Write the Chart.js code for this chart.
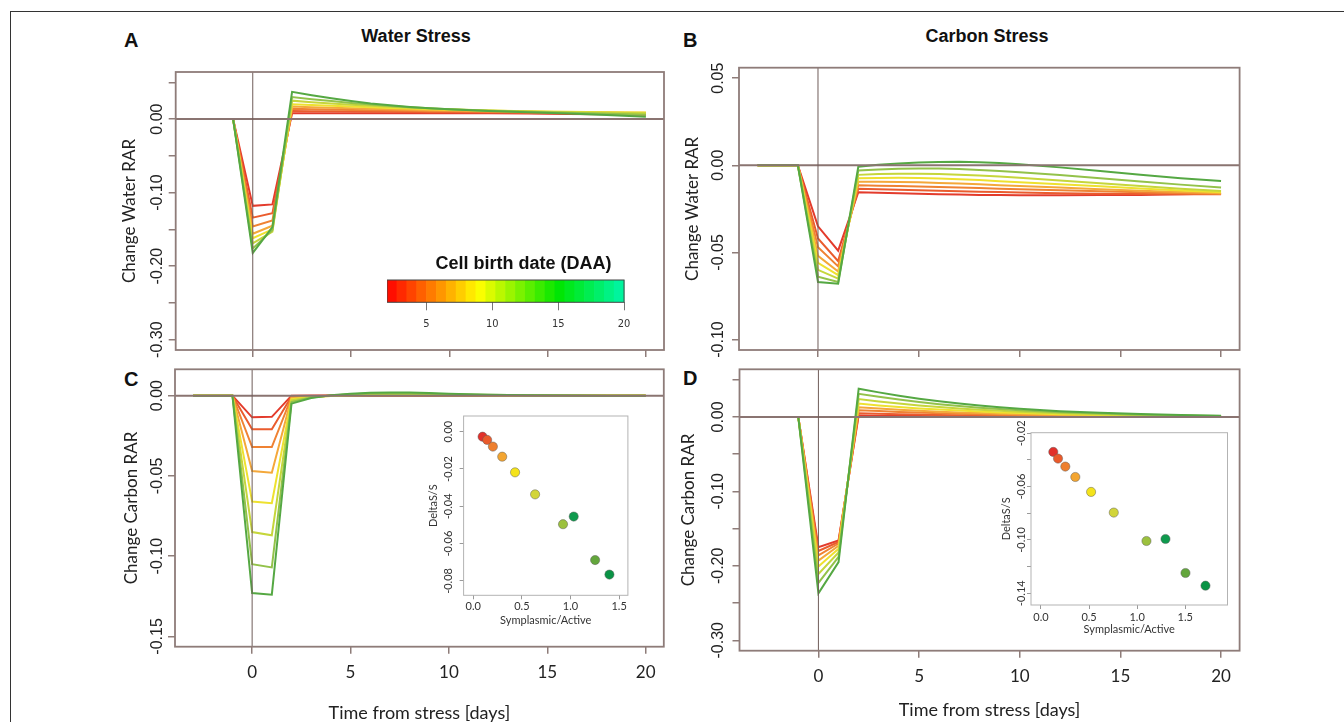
<!DOCTYPE html>
<html>
<head>
<meta charset="utf-8">
<script src="https://cdn.jsdelivr.net/npm/chart.js@4.4.1/dist/chart.umd.min.js"></script>
<style>
  body { margin: 0; width: 1344px; height: 722px; overflow: hidden; position: relative; background: #fff; font-family: "Liberation Sans", Arial, sans-serif; }
  canvas { position: absolute; }
  #frame { position: absolute; left: 10px; top: 11px; width: 1400px; height: 800px; border-left: 1px solid #333; border-top: 1px solid #333; }
  .letter { position: absolute; font-weight: bold; font-size: 20px; line-height: 1; color: #111; }
  .head { position: absolute; width: 300px; text-align: center; font-weight: bold; font-size: 18px; line-height: 1; color: #111; }
</style>
</head>
<body>
<div id="frame"></div>
<div class="letter" style="left:124px;top:30px">A</div>
<div class="letter" style="left:683px;top:30px">B</div>
<div class="letter" style="left:124px;top:369px">C</div>
<div class="letter" style="left:683px;top:368px">D</div>
<div class="head" style="left:266px;top:27px">Water Stress</div>
<div class="head" style="left:837px;top:27px">Carbon Stress</div>

<canvas id="panelA" width="572" height="300" style="left:100px;top:60px"></canvas>
<canvas id="panelB" width="570" height="305" style="left:680px;top:55px"></canvas>
<canvas id="panelC" width="572" height="360" style="left:100px;top:362px"></canvas>
<canvas id="panelD" width="570" height="360" style="left:680px;top:362px"></canvas>
<canvas id="colorbar" width="273" height="85" style="left:387px;top:250px"></canvas>
<canvas id="insetC" width="220" height="225" style="left:420px;top:405px"></canvas>
<canvas id="insetD" width="250" height="220" style="left:990px;top:420px"></canvas>

<script>
// tempo (dias) desde o estresse
var days = [-3, -1, 0, 1, 2, 3, 4, 5, 6, 7, 8, 9, 10, 12, 14, 16, 18, 20];
var xTicks = [0, 5, 10, 15, 20];

// A: water stress, change water RAR (red -> green)
var waterA1 = [0, 0, -0.118, -0.116, 0.008, 0.008, 0.008, 0.008, 0.008, 0.008, 0.008, 0.008, 0.008, 0.0078, 0.0075, 0.007, 0.0065, 0.006];
var waterA2 = [0, 0, -0.134, -0.128, 0.011, 0.0108, 0.0105, 0.0103, 0.010, 0.0098, 0.0096, 0.0094, 0.0092, 0.0088, 0.0084, 0.008, 0.0075, 0.007];
var waterA3 = [0, 0, -0.146, -0.138, 0.014, 0.0135, 0.013, 0.0125, 0.012, 0.0116, 0.0112, 0.0108, 0.0105, 0.0099, 0.0094, 0.009, 0.0085, 0.008];
var waterA4 = [0, 0, -0.156, -0.145, 0.017, 0.0162, 0.0154, 0.0147, 0.014, 0.0133, 0.0127, 0.0121, 0.0116, 0.0107, 0.010, 0.0094, 0.0089, 0.0085];
var waterA5 = [0, 0, -0.162, -0.150, 0.020, 0.019, 0.018, 0.017, 0.016, 0.015, 0.0142, 0.0134, 0.0127, 0.0115, 0.0106, 0.0099, 0.0094, 0.009];
var waterA6 = [0, 0, -0.169, -0.153, 0.025, 0.023, 0.0212, 0.0195, 0.018, 0.0166, 0.0153, 0.0142, 0.0132, 0.0116, 0.0103, 0.0094, 0.0087, 0.008];
var waterA7 = [0, 0, -0.176, -0.151, 0.030, 0.027, 0.0245, 0.022, 0.0198, 0.0178, 0.016, 0.0146, 0.0134, 0.0114, 0.0098, 0.0085, 0.0072, 0.006];
var waterA8 = [0, 0, -0.182, -0.147, 0.037, 0.0325, 0.0283, 0.0245, 0.0213, 0.0187, 0.0165, 0.0147, 0.0132, 0.011, 0.0092, 0.0075, 0.0054, 0.0032];

// B: carbon stress, change water RAR
var waterB1 = [0, 0, -0.035, -0.049, -0.0155, -0.0157, -0.016, -0.0163, -0.0166, -0.0168, -0.017, -0.0171, -0.0172, -0.0172, -0.0171, -0.017, -0.0166, -0.0162];
var waterB2 = [0, 0, -0.042, -0.055, -0.0135, -0.0137, -0.014, -0.0143, -0.0146, -0.0149, -0.0152, -0.0154, -0.0156, -0.016, -0.0163, -0.0165, -0.0166, -0.0166];
var waterB3 = [0, 0, -0.047, -0.058, -0.0115, -0.0117, -0.0119, -0.0122, -0.0125, -0.0128, -0.0131, -0.0134, -0.0137, -0.0143, -0.0149, -0.0155, -0.016, -0.0165];
var waterB4 = [0, 0, -0.052, -0.061, -0.0095, -0.0095, -0.0096, -0.0098, -0.0101, -0.0105, -0.0109, -0.0114, -0.0119, -0.0128, -0.0137, -0.0146, -0.0154, -0.016];
var waterB5 = [0, 0, -0.056, -0.063, -0.0075, -0.0073, -0.0072, -0.0073, -0.0076, -0.008, -0.0085, -0.0091, -0.0097, -0.0109, -0.0121, -0.0133, -0.0145, -0.0155];
var waterB6 = [0, 0, -0.060, -0.065, -0.0055, -0.005, -0.0048, -0.0048, -0.005, -0.0054, -0.0059, -0.0065, -0.0072, -0.0087, -0.0103, -0.0119, -0.0134, -0.0148];
var waterB7 = [0, 0, -0.064, -0.067, -0.003, -0.0024, -0.002, -0.0018, -0.0019, -0.0022, -0.0027, -0.0033, -0.004, -0.0056, -0.0074, -0.0093, -0.0111, -0.0128];
var waterB8 = [0, 0, -0.067, -0.068, -0.0008, 0.0003, 0.001, 0.0016, 0.0019, 0.002, 0.0018, 0.0013, 0.0006, -0.0012, -0.0033, -0.0055, -0.0075, -0.009];

// C: water stress, change carbon RAR
var carbonC1 = [0, 0, -0.0135, -0.0132, 0, 0.0001, 0.0001, 0.0001, 0, 0, 0, 0, 0, 0, 0, 0, 0, 0];
var carbonC2 = [0, 0, -0.021, -0.021, -0.0005, -0.0002, 0, 0.0001, 0.0001, 0.0001, 0.0001, 0, 0, 0, 0, 0, 0, 0];
var carbonC3 = [0, 0, -0.032, -0.032, -0.001, -0.0004, -0.0001, 0, 0.0001, 0.0001, 0.0001, 0.0001, 0.0001, 0, 0, 0, 0, 0];
var carbonC4 = [0, 0, -0.047, -0.048, -0.0015, -0.0006, -0.0002, 0, 0.0002, 0.0002, 0.0002, 0.0002, 0.0002, 0.0001, 0, 0, 0, 0];
var carbonC5 = [0, 0, -0.066, -0.067, -0.0022, -0.0009, -0.0002, 0.0002, 0.0004, 0.0005, 0.0005, 0.0004, 0.0003, 0.0002, 0.0001, 0, 0, 0];
var carbonC6 = [0, 0, -0.085, -0.087, -0.003, -0.001, 0, 0.0005, 0.0008, 0.0009, 0.0009, 0.0008, 0.0006, 0.0003, 0.0001, 0, 0, 0];
var carbonC7 = [0, 0, -0.105, -0.107, -0.004, -0.0012, 0.0001, 0.0009, 0.0013, 0.0015, 0.0014, 0.0012, 0.0009, 0.0005, 0.0002, 0.0001, 0, 0];
var carbonC8 = [0, 0, -0.123, -0.124, -0.005, -0.0015, 0.0002, 0.0012, 0.0018, 0.002, 0.0019, 0.0016, 0.0012, 0.0006, 0.0003, 0.0001, 0, 0];

// D: carbon stress, change carbon RAR
var carbonD1 = [0, 0, -0.175, -0.166, 0.002, 0.0017, 0.0015, 0.0013, 0.0011, 0.0009, 0.0008, 0.0007, 0.0006, 0.0004, 0.0003, 0.0002, 0.0001, 0.0001];
var carbonD2 = [0, 0, -0.180, -0.168, 0.005, 0.0043, 0.0037, 0.0032, 0.0027, 0.0023, 0.002, 0.0017, 0.0014, 0.001, 0.0007, 0.0005, 0.0003, 0.0002];
var carbonD3 = [0, 0, -0.186, -0.170, 0.009, 0.0079, 0.0068, 0.0059, 0.005, 0.0043, 0.0037, 0.0031, 0.0026, 0.0019, 0.0013, 0.0009, 0.0006, 0.0004];
var carbonD4 = [0, 0, -0.193, -0.173, 0.013, 0.0112, 0.0097, 0.0083, 0.0071, 0.0061, 0.0052, 0.0044, 0.0037, 0.0027, 0.0019, 0.0013, 0.0009, 0.0005];
var carbonD5 = [0, 0, -0.201, -0.177, 0.018, 0.0155, 0.0134, 0.0115, 0.0099, 0.0085, 0.0072, 0.0061, 0.0052, 0.0037, 0.0026, 0.0018, 0.0012, 0.0007];
var carbonD6 = [0, 0, -0.211, -0.182, 0.024, 0.0208, 0.018, 0.0154, 0.0132, 0.0113, 0.0096, 0.0082, 0.0069, 0.0049, 0.0035, 0.0024, 0.0016, 0.0009];
var carbonD7 = [0, 0, -0.223, -0.188, 0.031, 0.027, 0.0234, 0.0201, 0.0172, 0.0148, 0.0125, 0.0107, 0.009, 0.0064, 0.0045, 0.0031, 0.0021, 0.0012];
var carbonD8 = [0, 0, -0.237, -0.195, 0.038, 0.033, 0.0285, 0.0245, 0.021, 0.018, 0.0153, 0.013, 0.011, 0.0078, 0.0055, 0.0038, 0.0025, 0.0015];

// ticks do eixo y
var yTicksWide = [0.05, 0, -0.05, -0.1, -0.15, -0.2, -0.25, -0.3];
var yLabelsWide = [0, -0.1, -0.2, -0.3];
var yTicksB = [0.05, 0, -0.05, -0.1];
var yTicksC = [0, -0.05, -0.1, -0.15];

// insets: Symplasmic/Active x DeltaS/S
var insetCX = [0.096, 0.143, 0.202, 0.298, 0.43, 0.636, 0.923, 1.033, 1.253, 1.40];
var insetCY = [-0.0027, -0.0044, -0.008, -0.0134, -0.0218, -0.0336, -0.0496, -0.0455, -0.0688, -0.0766];
var insetDX = [0.128, 0.177, 0.253, 0.357, 0.521, 0.757, 1.097, 1.295, 1.503, 1.711];
var insetDY = [-0.034, -0.039, -0.045, -0.0528, -0.064, -0.0795, -0.1008, -0.0993, -0.1248, -0.1343];
var insetXTicks = [0, 0.5, 1, 1.5];
var insetCYTicks = [0, -0.02, -0.04, -0.06, -0.08];
var insetDYTicks = [-0.02, -0.04, -0.06, -0.08, -0.1, -0.12, -0.14];
var insetDYLabels = [-0.02, -0.06, -0.1, -0.14];

// barra de cores (DAA)
var colorbarDAA = [2.375, 3.125, 3.875, 4.625, 5.375, 6.125, 6.875, 7.625, 8.375, 9.125, 9.875, 10.625, 11.375, 12.125, 12.875, 13.625, 14.375, 15.125, 15.875, 16.625, 17.375, 18.125, 18.875, 19.625];
var colorbarTicks = [5, 10, 15, 20];

var lineColors = ["#e33b2c", "#ea5c2e", "#ef8233", "#f4a83a", "#eee12f", "#c6d63b", "#93c24a", "#55a843"];
var pointColors = ["#e2302a", "#ea5a2b", "#ee7f2e", "#f3a531", "#f4e31b", "#d2d53a", "#9cc13e", "#0f9a4e", "#63a63c", "#0a9345"];
var axisColor = "#8e7c79";

function rampColor(v) {
  var stops = [[2, [255, 0, 0]], [9, [255, 255, 0]], [15, [0, 230, 0]], [20, [0, 245, 170]]];
  for (var i = 0; i < stops.length - 1; i++) {
    if (v <= stops[i + 1][0]) {
      var f = (v - stops[i][0]) / (stops[i + 1][0] - stops[i][0]);
      var a = stops[i][1], b = stops[i + 1][1];
      return "rgb(" + a.map(function (c, k) { return Math.round(c + (b[k] - c) * f); }).join(",") + ")";
    }
  }
  return "rgb(0,245,170)";
}

function hasLabel(list, v) {
  return list.some(function (l) { return Math.abs(l - v) < 1e-9; });
}

// moldura + linhas do zero
var panelFrame = {
  id: "panelFrame",
  afterDatasetsDraw: function (chart, args, opts) {
    var ctx = chart.ctx, a = chart.chartArea;
    ctx.save();
    if (opts.zeroLines) {
      var y0 = chart.scales.y.getPixelForValue(0);
      var x0 = chart.scales.x.getPixelForValue(0);
      ctx.strokeStyle = "#8a7471";
      ctx.lineWidth = 2;
      ctx.beginPath(); ctx.moveTo(a.left, y0); ctx.lineTo(a.right, y0); ctx.stroke();
      ctx.strokeStyle = "#6f5d5a";
      ctx.lineWidth = 1;
      ctx.beginPath(); ctx.moveTo(x0, a.top); ctx.lineTo(x0, a.bottom); ctx.stroke();
    }
    ctx.strokeStyle = opts.color;
    ctx.lineWidth = opts.width;
    ctx.strokeRect(a.left, a.top, a.right - a.left, a.bottom - a.top);
    ctx.restore();
  }
};

var colorbarFrame = {
  id: "colorbarFrame",
  afterDatasetsDraw: function (chart) {
    var ctx = chart.ctx, a = chart.chartArea, x = chart.scales.x;
    var x1 = x.getPixelForValue(2), x2 = x.getPixelForValue(20);
    ctx.save();
    ctx.strokeStyle = "#444";
    ctx.lineWidth = 1;
    ctx.strokeRect(x1, a.top, x2 - x1, a.bottom - a.top);
    ctx.restore();
  }
};

function makePanel(canvasId, p) {
  var datasets = p.series.map(function (s, i) {
    return {
      data: days.map(function (d, j) { return { x: d, y: s[j] }; }),
      borderColor: lineColors[i],
      borderWidth: 2,
      pointRadius: 0,
      tension: 0,
      order: p.series.length - i
    };
  });
  return new Chart(document.getElementById(canvasId), {
    type: "line",
    data: { datasets: datasets },
    options: {
      responsive: false,
      animation: false,
      layout: { padding: { top: p.padTop, right: p.padRight, left: 0, bottom: 0 } },
      plugins: {
        legend: { display: false },
        tooltip: { enabled: false },
        panelFrame: { color: axisColor, width: 1.8, zeroLines: true }
      },
      scales: {
        x: {
          type: "linear",
          min: -3.92,
          max: 20.92,
          afterBuildTicks: function (s) { s.ticks = xTicks.map(function (v) { return { value: v }; }); },
          afterFit: function (s) { s.height = p.xHeight; },
          grid: { drawOnChartArea: false, drawTicks: true, tickLength: 7, color: axisColor, lineWidth: 1.5 },
          border: { display: false },
          ticks: {
            display: p.showX,
            autoSkip: false,
            maxRotation: 0,
            padding: p.xTickPad || 0,
            color: "#222",
            font: { family: "Lato", size: 17, lineHeight: 1 }
          },
          title: {
            display: p.showX,
            text: "Time from stress [days]",
            color: "#222",
            font: { family: "Lato", size: 18, lineHeight: 1 },
            padding: { top: 0, bottom: p.xTitlePad || 0 }
          }
        },
        y: {
          type: "linear",
          min: p.yMin,
          max: p.yMax,
          afterBuildTicks: function (s) { s.ticks = p.yTicks.map(function (v) { return { value: v }; }); },
          afterFit: function (s) { s.width = p.yWidth; },
          grid: { drawOnChartArea: false, drawTicks: true, tickLength: 7, color: axisColor, lineWidth: 1.5 },
          border: { display: false },
          ticks: {
            autoSkip: false,
            minRotation: 90,
            maxRotation: 90,
            crossAlign: "center",
            padding: p.yTickPad,
            color: "#222",
            font: { family: "Liberation Sans", size: 16 },
            callback: function (v) { return hasLabel(p.yLabels, v) ? v.toFixed(2) : ""; }
          },
          title: {
            display: true,
            text: p.yTitle,
            color: "#222",
            font: { family: "Lato", size: 17, lineHeight: 1 },
            padding: { top: p.yTitlePad, bottom: 0 }
          }
        }
      }
    },
    plugins: [panelFrame]
  });
}

function makeInset(canvasId, p) {
  return new Chart(document.getElementById(canvasId), {
    type: "scatter",
    data: {
      datasets: [{
        data: p.xs.map(function (x, i) { return { x: x, y: p.ys[i] }; }),
        backgroundColor: pointColors,
        borderColor: "rgba(90,90,90,0.6)",
        borderWidth: 0.8,
        pointRadius: 4.6
      }]
    },
    options: {
      responsive: false,
      animation: false,
      layout: { padding: { top: p.padTop, right: p.padRight, left: 0, bottom: 0 } },
      plugins: {
        legend: { display: false },
        tooltip: { enabled: false },
        panelFrame: { color: "#b3b3b3", width: 1, zeroLines: false }
      },
      scales: {
        x: {
          type: "linear",
          min: p.xMin,
          max: p.xMax,
          afterBuildTicks: function (s) { s.ticks = insetXTicks.map(function (v) { return { value: v }; }); },
          afterFit: function (s) { s.height = p.xHeight; },
          grid: { drawOnChartArea: false, drawTicks: true, tickLength: 4, color: "#9a9a9a", lineWidth: 1 },
          border: { display: false },
          ticks: {
            autoSkip: false,
            maxRotation: 0,
            padding: p.xTickPad,
            color: "#333",
            font: { family: "Lato", size: 11, lineHeight: 1 },
            callback: function (v) { return v.toFixed(1); }
          },
          title: {
            display: true,
            text: "Symplasmic/Active",
            color: "#333",
            font: { family: "Lato", size: 11, lineHeight: 1 },
            padding: { top: 0, bottom: p.xTitlePad }
          }
        },
        y: {
          type: "linear",
          min: p.yMin,
          max: p.yMax,
          afterBuildTicks: function (s) { s.ticks = p.yTicks.map(function (v) { return { value: v }; }); },
          afterFit: function (s) { s.width = p.yWidth; },
          grid: { drawOnChartArea: false, drawTicks: true, tickLength: 4, color: "#9a9a9a", lineWidth: 1 },
          border: { display: false },
          ticks: {
            autoSkip: false,
            minRotation: 90,
            maxRotation: 90,
            crossAlign: "center",
            padding: p.yTickPad,
            color: "#333",
            font: { family: "Lato", size: 11 },
            callback: function (v) { return hasLabel(p.yLabels, v) ? v.toFixed(2) : ""; }
          },
          title: {
            display: true,
            text: "DeltaS/S",
            color: "#333",
            font: { family: "Lato", size: 11, lineHeight: 1 },
            padding: { top: p.yTitlePad, bottom: 0 }
          }
        }
      }
    },
    plugins: [panelFrame]
  });
}

makePanel("panelA", {
  series: [waterA1, waterA2, waterA3, waterA4, waterA5, waterA6, waterA7, waterA8],
  yMin: -0.314, yMax: 0.064, yTicks: yTicksWide, yLabels: yLabelsWide,
  yTitle: "Change Water RAR", yTitlePad: 21.5, yTickPad: -7.5,
  padTop: 12, padRight: 8, yWidth: 75.7, xHeight: 10, showX: false
});

makePanel("panelB", {
  series: [waterB1, waterB2, waterB3, waterB4, waterB5, waterB6, waterB7, waterB8],
  yMin: -0.106, yMax: 0.056, yTicks: yTicksB, yLabels: yTicksB,
  yTitle: "Change Water RAR", yTitlePad: 4, yTickPad: -5.2,
  padTop: 12.7, padRight: 10.4, yWidth: 59, xHeight: 10, showX: false
});

makePanel("panelC", {
  series: [carbonC1, carbonC2, carbonC3, carbonC4, carbonC5, carbonC6, carbonC7, carbonC8],
  yMin: -0.1564, yMax: 0.0164, yTicks: yTicksC, yLabels: yTicksC,
  yTitle: "Change Carbon RAR", yTitlePad: 23.5, yTickPad: -8.2,
  padTop: 7.3, padRight: 8.2, yWidth: 75, xHeight: 75.3, showX: true, xTickPad: 10.8, xTitlePad: 0
});

makePanel("panelD", {
  series: [carbonD1, carbonD2, carbonD3, carbonD4, carbonD5, carbonD6, carbonD7, carbonD8],
  yMin: -0.314, yMax: 0.064, yTicks: yTicksWide, yLabels: yLabelsWide,
  yTitle: "Change Carbon RAR", yTitlePad: 0.5, yTickPad: -4.7,
  padTop: 7.3, padRight: 10.4, yWidth: 59.5, xHeight: 71.3, showX: true, xTickPad: 10.5, xTitlePad: 3
});

makeInset("insetC", {
  xs: insetCX, ys: insetCY,
  xMin: -0.099, xMax: 1.59, yMin: -0.0877, yMax: 0.0084,
  yTicks: insetCYTicks, yLabels: insetCYTicks,
  padTop: 11, padRight: 12.1, yWidth: 43.6, xHeight: 34.7,
  yTitlePad: 7.5, yTickPad: -2, xTickPad: 1.9, xTitlePad: 4.5
});

makeInset("insetD", {
  xs: insetDX, ys: insetDY,
  xMin: -0.104, xMax: 1.94, yMin: -0.1488, yMax: -0.0196,
  yTicks: insetDYTicks, yLabels: insetDYLabels,
  padTop: 12.7, padRight: 12.5, yWidth: 41, xHeight: 35,
  yTitlePad: 11.2, yTickPad: -7.7, xTickPad: 3.2, xTitlePad: 5.2
});

// barra de cores
new Chart(document.getElementById("colorbar"), {
  type: "bar",
  data: {
    datasets: [{
      data: colorbarDAA.map(function (v) { return { x: v, y: 1 }; }),
      backgroundColor: colorbarDAA.map(rampColor),
      borderWidth: 0,
      barPercentage: 1,
      categoryPercentage: 1
    }]
  },
  options: {
    responsive: false,
    animation: false,
    layout: { padding: 0 },
    plugins: {
      legend: { display: false },
      tooltip: { enabled: false },
      title: {
        display: true,
        text: "Cell birth date (DAA)",
        color: "#111",
        font: { family: "Liberation Sans", size: 18, weight: "bold", lineHeight: 1 },
        padding: { top: 5, bottom: 7 }
      }
    },
    scales: {
      x: {
        type: "linear",
        min: 2,
        max: 22.73,
        offset: false,
        afterBuildTicks: function (s) { s.ticks = colorbarTicks.map(function (v) { return { value: v }; }); },
        afterFit: function (s) { s.height = 32.7; },
        grid: { offset: false, drawOnChartArea: false, drawTicks: true, tickLength: 8, color: "#777", lineWidth: 1 },
        border: { display: false },
        ticks: {
          autoSkip: false,
          maxRotation: 0,
          padding: 8.2,
          color: "#333",
          font: { family: "'DejaVu Sans Condensed', 'Liberation Sans', sans-serif", size: 11, lineHeight: 1 }
        }
      },
      y: { min: 0, max: 1, display: false }
    }
  },
  plugins: [colorbarFrame]
});
</script>
</body>
</html>
